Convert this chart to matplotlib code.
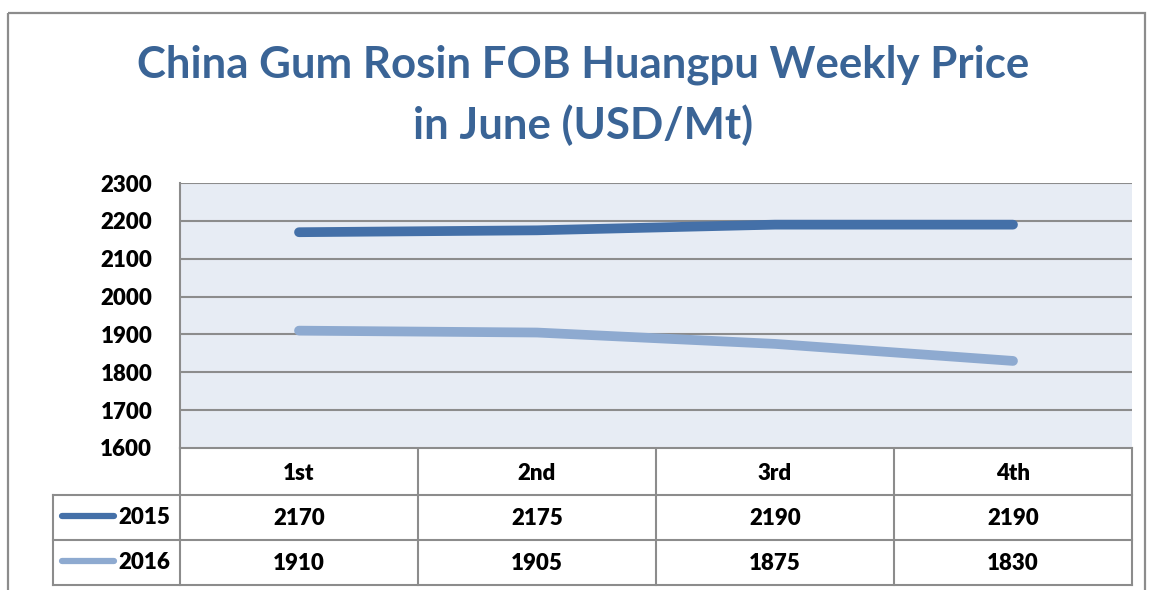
import matplotlib.pyplot as plt
from matplotlib.lines import Line2D
from matplotlib.patches import Rectangle

# data
weeks = ['1st', '2nd', '3rd', '4th']
years = ['2015', '2016']
price_2015 = [2170, 2175, 2190, 2190]
price_2016 = [1910, 1905, 1875, 1830]
colors = ['#4470a8', '#8eaad0']
yticks = [1600, 1700, 1800, 1900, 2000, 2100, 2200, 2300]

plt.rcParams['font.family'] = ['Lato', 'DejaVu Sans']
plt.rcParams['font.weight'] = 'bold'

W, H = 1149, 590
fig = plt.figure(figsize=(W / 100, H / 100), dpi=100)

# pixel helper axes for frame + table
bg = fig.add_axes([0, 0, 1, 1])
bg.set_xlim(0, W)
bg.set_ylim(H, 0)
bg.axis('off')

grey = '#8c8c8c'
bg.add_patch(Rectangle((8, 13), 1137, 600, fill=False, ec=grey, lw=1.6))

# plot area: x 180..1132, y 183..448
L, R, T, B = 180, 1132, 183, 448
ax = fig.add_axes([L / W, (H - B) / H, (R - L) / W, (B - T) / H])
ax.set_facecolor('#e7ecf4')
series = [price_2015, price_2016]
x = range(len(weeks))
for vals, c in zip(series, colors):
    ax.plot(x, vals, color=c, lw=7, solid_capstyle='round', zorder=3)
ax.set_xlim(-0.5, len(weeks) - 0.5)
ax.set_ylim(yticks[0], yticks[-1])
ax.set_yticks(yticks)
ax.set_yticklabels([str(v) for v in yticks], fontsize=16, fontweight='heavy')
ax.tick_params(axis='y', length=0, pad=20)
ax.set_xticks([])
ax.grid(axis='y', color=grey, lw=1.5)
for s in ['top', 'right', 'bottom']:
    ax.spines[s].set_visible(False)
ax.spines['left'].set_color(grey)
ax.spines['left'].set_linewidth(1.5)

# title
fig.text(583 / W, 1 - 95 / H, 'China Gum Rosin FOB Huangpu Weekly Price\nin June (USD/Mt)',
         ha='center', va='center', fontsize=31.5, fontweight='bold', color='#3a6496',
         linespacing=1.55)

# data table
col_w = (R - L) / len(weeks)
rows_y = [448, 495, 540, 585]
tl = 53
for i, yy in enumerate(rows_y):
    x0 = L if i == 0 else tl
    bg.plot([x0, R], [yy, yy], color=grey, lw=1.5)
for j in range(len(weeks) + 1):
    xx = L + j * col_w
    bg.plot([xx, xx], [rows_y[0], rows_y[-1]], color=grey, lw=1.5)
bg.plot([tl, tl], [rows_y[1], rows_y[-1]], color=grey, lw=1.5)

for j, wk in enumerate(weeks):
    bg.text(L + (j + 0.5) * col_w, (rows_y[0] + rows_y[1]) / 2 + 2, wk,
            ha='center', va='center', fontsize=16, fontweight='heavy')
for i, (yr, vals, c) in enumerate(zip(years, series, colors)):
    yc = (rows_y[i + 1] + rows_y[i + 2]) / 2
    bg.add_line(Line2D([62, 114], [yc - 2, yc - 2], color=c, lw=4.5, solid_capstyle='round'))
    bg.text(118, yc, yr, ha='left', va='center', fontsize=16, fontweight='heavy')
    for j, v in enumerate(vals):
        bg.text(L + (j + 0.5) * col_w, yc + 1, str(v), ha='center', va='center',
                fontsize=16, fontweight='heavy')

fig.savefig('out.png', dpi=100)
